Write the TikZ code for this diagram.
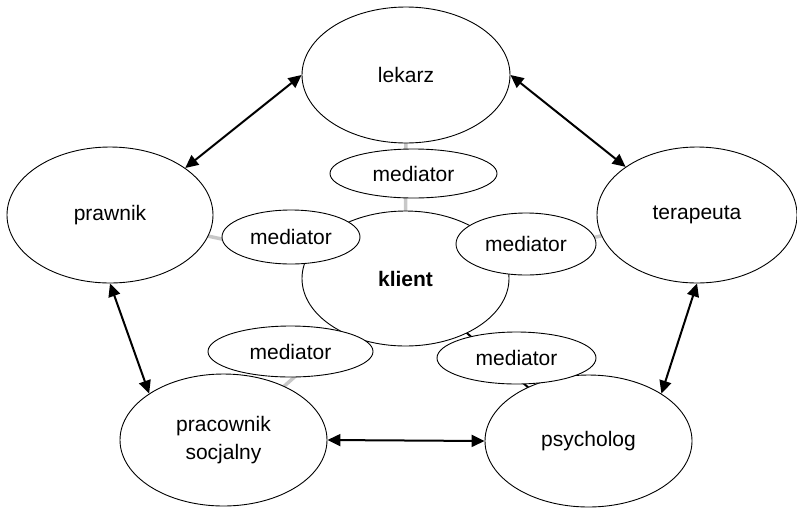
\documentclass[tikz,border=0pt]{standalone}
\usepackage{fontspec}
\setmainfont{Liberation Sans}
\usetikzlibrary{shapes.geometric,arrows.meta,backgrounds}
\definecolor{linkgray}{HTML}{C8C8C8}
\begin{document}
\begin{tikzpicture}[x=1pt,y=-1pt,
  el/.style={ellipse, draw, line width=0.9pt, fill=white, inner sep=0pt,
    font=\fontsize{21}{28}\selectfont, align=center},
  dbl/.style={{Triangle[length=13pt,width=12pt]}-{Triangle[length=13pt,width=12pt]}, line width=2pt},
  link/.style={line width=3.5pt, draw=linkgray},
  blink/.style={line width=2pt, draw=black}]
\useasboundingbox (0,0) rectangle (797,507);

\node[el, minimum width=208pt, minimum height=136pt] (lekarz) at (406,75) {lekarz};
\node[el, minimum width=206pt, minimum height=136pt] (prawnik) at (110,215) {prawnik};
\node[el, minimum width=200pt, minimum height=136pt] (terapeuta) at (697,215) {terapeuta};
\node[el, minimum width=207pt, minimum height=132pt] (pracownik) at (223.5,440) {pracownik\\socjalny};
\node[el, minimum width=207pt, minimum height=132pt] (psycholog) at (588.5,441) {psycholog};
\node[el, minimum width=207pt, minimum height=135pt, font=\fontsize{21}{28}\selectfont\bfseries] (klient) at (405.5,278.5) {klient};

\node[el, minimum width=167pt, minimum height=49pt] (medT) at (413.5,173.5) {mediator};
\node[el, minimum width=138pt, minimum height=54pt] (medL) at (291,237) {mediator};
\node[el, minimum width=140pt, minimum height=62pt] (medR) at (526,244) {mediator};
\node[el, minimum width=165pt, minimum height=51pt] (medBL) at (290.5,351.5) {mediator};
\node[el, minimum width=159pt, minimum height=52pt] (medBR) at (516.5,358) {mediator};

\begin{scope}[on background layer]
  \draw[link] (lekarz.center) -- (klient.center);
  \draw[link] (prawnik.center) -- (klient.center);
  \draw[link] (terapeuta.center) -- (klient.center);
  \draw[link] (pracownik.center) -- (klient.center);
  \draw[blink] (psycholog.center) -- (klient.center);
\end{scope}

\draw[dbl] (lekarz.west) -- (prawnik.32);
\draw[dbl] (lekarz.east) -- (terapeuta.146);
\draw[dbl] (prawnik.south) -- (pracownik.148);
\draw[dbl] (terapeuta.south) -- (psycholog.33);
\draw[dbl] (pracownik.east) -- (psycholog.west);
\end{tikzpicture}
\end{document}
